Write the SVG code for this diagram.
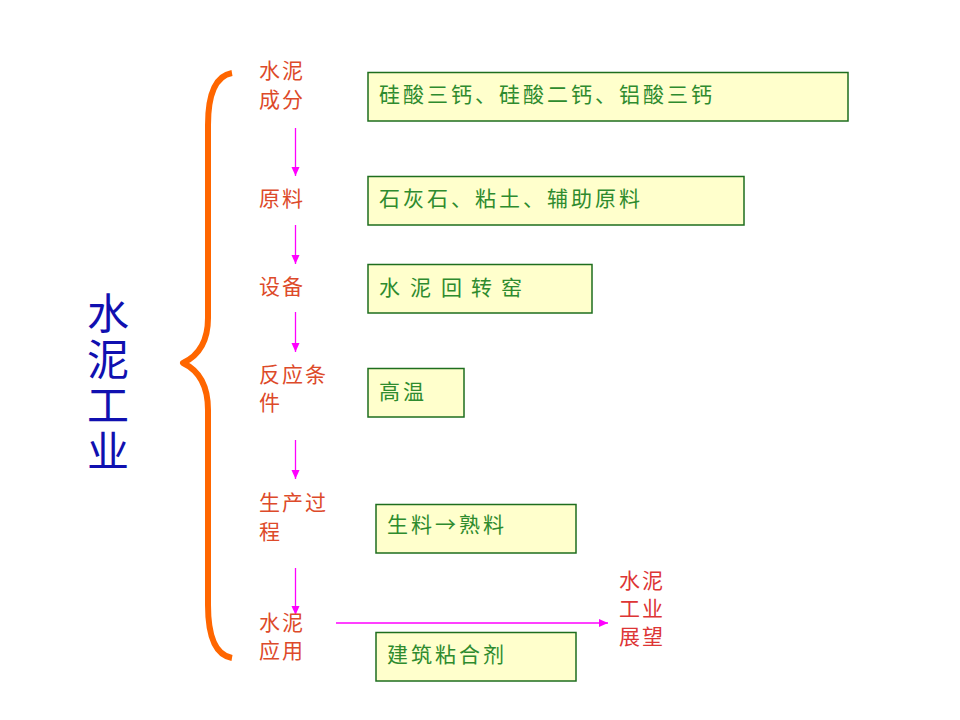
<svg xmlns="http://www.w3.org/2000/svg" width="960" height="720" viewBox="0 0 960 720">
<style>
.lbl{font-family:"Noto Sans CJK SC","Liberation Sans",sans-serif;font-size:21px;fill:#DD4A2A;letter-spacing:2px}
.lbl2{font-family:"Noto Sans CJK SC","Liberation Sans",sans-serif;font-size:21px;fill:#DD3535;letter-spacing:2px}
.box{fill:#FFFFCC;stroke:#1E6E1E;stroke-width:1.5}
.bt{font-family:"Noto Sans CJK SC","Liberation Sans",sans-serif;font-size:21px;fill:#2E8B2E;letter-spacing:3px}
.title{font-family:"Noto Sans CJK SC",sans-serif;font-size:42px;fill:#1010B0;writing-mode:vertical-rl;letter-spacing:4px}
.conn{stroke:#FF00FF;stroke-width:1.3;fill:none;marker-end:url(#ah)}
</style>
<defs>
<marker id="ah" markerWidth="10" markerHeight="10" refX="9" refY="5" orient="auto" markerUnits="userSpaceOnUse">
<path d="M0,1 L9,5 L0,9 Z" fill="#FF00FF"/>
</marker>
</defs>
<rect width="960" height="720" fill="#FFFFFF"/>
<g id="title">
<text class="title" x="108" y="292">水泥工业</text>
</g>
<g id="brace">
<path d="M232,73 C215,76 208,95 208,125 L208,318 C208,340 200,355 183,363 C200,371 208,386 208,410 L208,605 C208,635 215,655 232,658" fill="none" stroke="#FF6600" stroke-width="6" stroke-linejoin="round"/>
</g>
<g id="connectors">
<line class="conn" x1="295.5" y1="128" x2="295.5" y2="176"/>
<line class="conn" x1="295.5" y1="225" x2="295.5" y2="264"/>
<line class="conn" x1="295.5" y1="312" x2="295.5" y2="352"/>
<line class="conn" x1="295.5" y1="440" x2="295.5" y2="479"/>
<line class="conn" x1="295.5" y1="568" x2="295.5" y2="615"/>
<line class="conn" x1="336" y1="623" x2="608" y2="623"/>
</g>
<g id="n1">
<text class="lbl" x="259" y="78">水泥</text>
<text class="lbl" x="259" y="107">成分</text>
</g>
<g id="b1">
<rect class="box" x="368" y="72.5" width="480" height="48.5"/>
<text class="bt" x="379" y="101.5">硅酸三钙、硅酸二钙、铝酸三钙</text>
</g>
<g id="n2">
<text class="lbl" x="259" y="205.5">原料</text>
</g>
<g id="b2">
<rect class="box" x="368" y="176.5" width="376" height="48.5"/>
<text class="bt" x="379" y="206">石灰石、粘土、辅助原料</text>
</g>
<g id="n3">
<text class="lbl" x="259" y="293.5">设备</text>
</g>
<g id="b3">
<rect class="box" x="368" y="264.5" width="224" height="48.5"/>
<text class="bt" x="379" y="295" style="letter-spacing:0"><tspan x="379">水</tspan><tspan x="410">泥</tspan><tspan x="441">回</tspan><tspan x="471">转</tspan><tspan x="501">窑</tspan></text>
</g>
<g id="n4">
<text class="lbl" x="259" y="381.5">反应条</text>
<text class="lbl" x="259" y="409.5">件</text>
</g>
<g id="b4">
<rect class="box" x="368" y="368.5" width="96" height="48.5"/>
<text class="bt" x="379" y="398.5">高温</text>
</g>
<g id="n5">
<text class="lbl" x="259" y="510">生产过</text>
<text class="lbl" x="259" y="538.5">程</text>
</g>
<g id="b5">
<rect class="box" x="376" y="504.5" width="200" height="48.5"/>
<text class="bt" x="387" y="531.5">生料→熟料</text>
</g>
<g id="n6">
<text class="lbl" x="259" y="630">水泥</text>
<text class="lbl" x="259" y="658">应用</text>
</g>
<g id="b6">
<rect class="box" x="376" y="632.5" width="200" height="48.5"/>
<text class="bt" x="387" y="661.5">建筑粘合剂</text>
</g>
<g id="n7">
<text class="lbl2" x="619" y="588">水泥</text>
<text class="lbl2" x="619" y="616">工业</text>
<text class="lbl2" x="619" y="644">展望</text>
</g>
</svg>
